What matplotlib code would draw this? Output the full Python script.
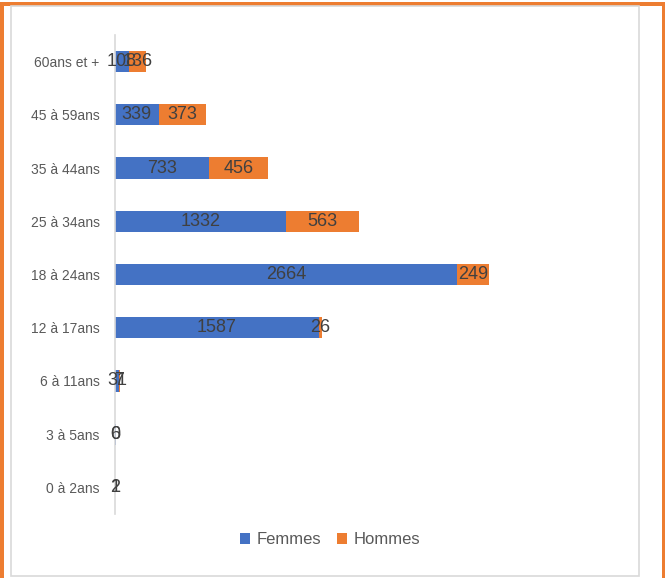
import matplotlib
matplotlib.use("Agg")
import matplotlib.pyplot as plt
from matplotlib.patches import Rectangle
import numpy as np

categories = ["0 à 2ans", "3 à 5ans", "6 à 11ans", "12 à 17ans", "18 à 24ans",
              "25 à 34ans", "35 à 44ans", "45 à 59ans", "60ans et +"]
femmes = [2, 6, 31, 1587, 2664, 1332, 733, 339, 108]
hommes = [1, 0, 7, 26, 249, 563, 456, 373, 136]

BLUE = "#4472C4"
ORANGE = "#ED7D31"
FONT = ["Liberation Sans", "DejaVu Sans"]

W, H = 665, 578
fig = plt.figure(figsize=(W / 100, H / 100), dpi=100)
fig.patch.set_facecolor("white")

# outer decorations
fig.add_artist(Rectangle((0, 1 - 6 / H), 1, 4 / H, transform=fig.transFigure,
                         facecolor=ORANGE, edgecolor="none"))
fig.add_artist(Rectangle((0, 0), 3.5 / W, 1 - 2 / H, transform=fig.transFigure,
                         facecolor=ORANGE, edgecolor="none"))
fig.add_artist(Rectangle((1 - 3.5 / W, 0), 3.5 / W, 1 - 2 / H, transform=fig.transFigure,
                         facecolor=ORANGE, edgecolor="none"))
fig.add_artist(Rectangle((11 / W, 2.5 / H), (639 - 11) / W, (572 - 2.5) / H,
                         transform=fig.transFigure, facecolor="none",
                         edgecolor="#d9d9d9", linewidth=1.2))

ax = fig.add_axes([115 / W, 1 - 514 / H, 514 / W, 479 / H])
y = np.arange(len(categories))
bh = 0.4
b1 = ax.barh(y, femmes, height=bh, color=BLUE, label="Femmes")
b2 = ax.barh(y, hommes, height=bh, left=femmes, color=ORANGE, label="Hommes")

for i in range(len(categories)):
    ax.text(femmes[i] / 2, y[i], str(femmes[i]), ha="center", va="center",
            fontsize=13, color="#404040", family=FONT)
    ax.text(femmes[i] + hommes[i] / 2, y[i], str(hommes[i]), ha="center", va="center",
            fontsize=13, color="#404040", family=FONT)

ax.set_xlim(0, 4000)
ax.set_ylim(-0.5, len(categories) - 0.5)
ax.set_yticks(y)
ax.set_yticklabels(categories, family=FONT, fontsize=10, color="#595959")
ax.tick_params(axis="y", length=0, pad=11)
ax.set_xticks([])
for s in ["top", "right", "bottom"]:
    ax.spines[s].set_visible(False)
ax.spines["left"].set_color("#d9d9d9")
ax.spines["left"].set_linewidth(1.2)
ax.set_facecolor("none")

leg = fig.legend(handles=[b1, b2], labels=["Femmes", "Hommes"], loc="center",
                 bbox_to_anchor=(330 / W, 1 - 540 / H), ncol=2, frameon=False,
                 prop={"family": FONT, "size": 12}, handlelength=0.6, handleheight=0.6,
                 handletextpad=0.4, columnspacing=0.9)
for t in leg.get_texts():
    t.set_color("#595959")

fig.savefig("out.png", dpi=100, facecolor="white")
